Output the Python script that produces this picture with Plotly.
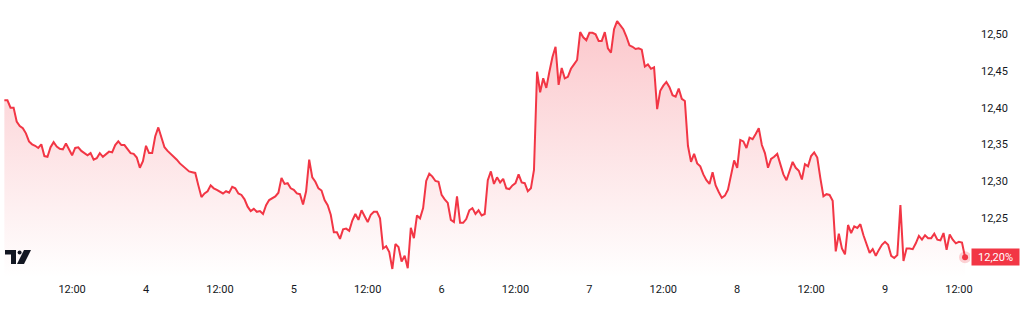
import pandas as pd
import plotly.graph_objects as go

# 30-minute yield readings (%), starting 3rd 01:00
start_time = "2025-03-03 01:00"
yields = [
    12.410, 12.410, 12.400, 12.400, 12.381, 12.375, 12.372, 12.365, 12.354, 12.350,
    12.348, 12.345, 12.350, 12.334, 12.333, 12.346, 12.353, 12.347, 12.344, 12.343,
    12.351, 12.342, 12.335, 12.345, 12.346, 12.341, 12.338, 12.335, 12.338, 12.329,
    12.331, 12.338, 12.333, 12.337, 12.340, 12.339, 12.349, 12.354, 12.349, 12.349,
    12.344, 12.338, 12.337, 12.332, 12.318, 12.327, 12.348, 12.338, 12.338, 12.361,
    12.373, 12.361, 12.346, 12.341, 12.337, 12.334, 12.329, 12.324, 12.320, 12.316,
    12.313, 12.312, 12.311, 12.294, 12.278, 12.283, 12.286, 12.294, 12.290, 12.288,
    12.286, 12.283, 12.286, 12.284, 12.292, 12.290, 12.283, 12.281, 12.275, 12.265,
    12.259, 12.262, 12.258, 12.259, 12.255, 12.267, 12.274, 12.277, 12.279, 12.284,
    12.304, 12.296, 12.297, 12.290, 12.288, 12.283, 12.282, 12.268, 12.286, 12.329,
    12.305, 12.299, 12.290, 12.287, 12.274, 12.267, 12.254, 12.230, 12.230, 12.221,
    12.234, 12.235, 12.232, 12.246, 12.255, 12.247, 12.260, 12.252, 12.244, 12.254,
    12.258, 12.258, 12.249, 12.208, 12.211, 12.203, 12.180, 12.214, 12.210, 12.190,
    12.198, 12.181, 12.236, 12.222, 12.253, 12.249, 12.263, 12.300, 12.310, 12.306,
    12.300, 12.299, 12.281, 12.275, 12.270, 12.247, 12.244, 12.279, 12.243, 12.243,
    12.248, 12.260, 12.263, 12.255, 12.260, 12.253, 12.255, 12.301, 12.313, 12.296,
    12.305, 12.298, 12.303, 12.290, 12.289, 12.294, 12.297, 12.309, 12.298, 12.297,
    12.286, 12.290, 12.315, 12.449, 12.421, 12.440, 12.427, 12.449, 12.469, 12.483,
    12.431, 12.454, 12.440, 12.442, 12.453, 12.459, 12.465, 12.503, 12.496, 12.492,
    12.502, 12.502, 12.500, 12.491, 12.491, 12.503, 12.481, 12.475, 12.507, 12.518,
    12.512, 12.507, 12.497, 12.485, 12.483, 12.480, 12.481, 12.479, 12.456, 12.459,
    12.453, 12.455, 12.398, 12.423, 12.430, 12.435, 12.428, 12.417, 12.415, 12.426,
    12.412, 12.409, 12.348, 12.326, 12.337, 12.324, 12.320, 12.309, 12.301, 12.296,
    12.312, 12.294, 12.285, 12.277, 12.280, 12.288, 12.308, 12.328, 12.318, 12.356,
    12.354, 12.345, 12.359, 12.357, 12.364, 12.372, 12.349, 12.338, 12.318, 12.330,
    12.333, 12.337, 12.323, 12.309, 12.301, 12.315, 12.326, 12.318, 12.314, 12.302,
    12.323, 12.320, 12.334, 12.339, 12.332, 12.304, 12.279, 12.282, 12.281, 12.273,
    12.204, 12.228, 12.208, 12.200, 12.240, 12.229, 12.238, 12.236, 12.241, 12.226,
    12.215, 12.202, 12.207, 12.198, 12.206, 12.213, 12.217, 12.213, 12.198, 12.195,
    12.199, 12.267, 12.191, 12.208, 12.208, 12.207, 12.215, 12.225, 12.220, 12.226,
    12.222, 12.222, 12.228, 12.220, 12.219, 12.229, 12.206, 12.227, 12.220, 12.215,
    12.217, 12.216, 12.196,
]

x_tick_vals = [
    "2025-03-03 12:00", "2025-03-04 00:00", "2025-03-04 12:00", "2025-03-05 00:00",
    "2025-03-05 12:00", "2025-03-06 00:00", "2025-03-06 12:00", "2025-03-07 00:00",
    "2025-03-07 12:00", "2025-03-08 00:00", "2025-03-08 12:00", "2025-03-09 00:00",
    "2025-03-09 12:00",
]
x_tick_text = ["12:00", "4", "12:00", "5", "12:00", "6", "12:00", "7",
               "12:00", "8", "12:00", "9", "12:00"]
y_tick_vals = [12.25, 12.30, 12.35, 12.40, 12.45, 12.50]

RED = "#F23645"
times = pd.date_range(start_time, periods=len(yields), freq="30min")

fig = go.Figure()
fig.add_trace(go.Scatter(
    x=times, y=yields, mode="lines",
    line=dict(color=RED, width=2),
    fill="tozeroy",
    fillgradient=dict(
        type="vertical",
        colorscale=[[0, "rgba(242,54,69,0.0)"], [1, "rgba(242,54,69,0.28)"]],
        start=12.168, stop=12.52,
    ),
    hoverinfo="skip",
))
# last value marker with halo
fig.add_trace(go.Scatter(
    x=[times[-1]], y=[yields[-1]], mode="markers",
    marker=dict(size=12, color="rgba(242,54,69,0.22)"),
    hoverinfo="skip",
))
fig.add_trace(go.Scatter(
    x=[times[-1]], y=[yields[-1]], mode="markers",
    marker=dict(size=6, color=RED),
    hoverinfo="skip",
))

last_txt = f"{yields[-1]:.2f}".replace(".", ",") + "%"
fig.add_annotation(
    x=1, xref="paper", xanchor="left", xshift=1,
    y=yields[-1], yref="y", yanchor="middle",
    text=last_txt, showarrow=False,
    bgcolor=RED, font=dict(color="white", size=11, family="Roboto"),
    width=43, height=12, borderpad=2,
)

# TradingView logo
logo_kw = dict(xref="paper", yref="paper", xsizemode="pixel", ysizemode="pixel",
               xanchor=0, yanchor=0, fillcolor="#131722", line=dict(width=0), layer="above")
fig.add_shape(type="path", path="M5,28 L16,28 L16,14 L11,14 L11,23.5 L5,23.5 Z", **logo_kw)
fig.add_shape(type="path", path="M24,28 L31,28 L24,14 L17,14 Z", **logo_kw)
fig.add_shape(type="circle", x0=17.6, x1=21.6, y0=23.5, y1=27.5, **logo_kw)

fig.update_layout(
    width=1024, height=325,
    margin=dict(l=0, r=54, t=0, b=47),
    paper_bgcolor="white", plot_bgcolor="white",
    showlegend=False,
    separators=",.",
    font=dict(family="Roboto", size=11, color="#131722"),
    hovermode=False,
)
fig.update_xaxes(
    range=["2025-03-03 00:17:30", "2025-03-09 13:48:00"],
    tickvals=x_tick_vals, ticktext=x_tick_text,
    showgrid=False, zeroline=False, showline=False, ticks="",
    ticklabelstandoff=3,
    tickfont=dict(size=11, color="#131722"),
)
fig.update_yaxes(
    side="right",
    range=[12.1677, 12.5468],
    tickvals=y_tick_vals, tickformat=".2f", ticksuffix="%",
    showgrid=False, zeroline=False, showline=False, ticks="",
    ticklabelstandoff=10,
    tickfont=dict(size=11, color="#131722"),
)

fig.write_html("out.html", config={"displayModeBar": False})
